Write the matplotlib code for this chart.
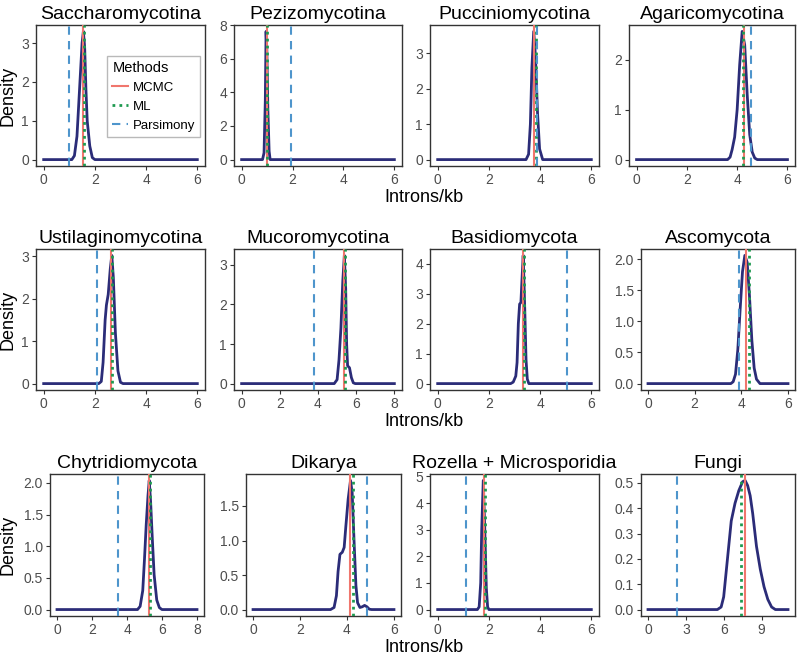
import matplotlib
matplotlib.use("Agg")
import matplotlib.pyplot as plt
from matplotlib.lines import Line2D

plt.rcParams['font.family'] = ['Liberation Sans', 'DejaVu Sans']

# ---------- data ----------
titles = ["Saccharomycotina", "Pezizomycotina", "Pucciniomycotina", "Agaricomycotina",
          "Ustilaginomycotina", "Mucoromycotina", "Basidiomycota", "Ascomycota",
          "Chytridiomycota", "Dikarya", "Rozella + Microsporidia", "Fungi"]

# posterior density curves (x, y)
sacch_x = [0, 1.1, 1.2, 1.3, 1.4, 1.5, 1.55, 1.6, 1.65, 1.7, 1.8, 1.9, 2.0, 6]
sacch_y = [0, 0, 0.1, 0.6, 1.8, 3.0, 3.3, 2.9, 1.8, 1.0, 0.35, 0.05, 0, 0]
pezi_x = [0, 0.82, 0.88, 0.93, 0.96, 0.99, 1.03, 1.08, 1.12, 6]
pezi_y = [0, 0, 0.4, 3.5, 7.62, 6.5, 3.0, 0.5, 0, 0]
pucc_x = [0, 3.45, 3.55, 3.62, 3.68, 3.75, 3.82, 3.9, 3.98, 4.1, 6]
pucc_y = [0, 0, 0.15, 1.0, 2.6, 3.62, 2.9, 1.3, 0.3, 0, 0]
agar_x = [0, 3.62, 3.72, 3.8, 3.9, 4.0, 4.1, 4.2, 4.3, 4.4, 4.5, 4.6, 4.7, 4.8, 6]
agar_y = [0, 0, 0.05, 0.2, 0.45, 1.0, 1.9, 2.57, 2.3, 1.3, 0.5, 0.15, 0.03, 0, 0]
ustil_x = [0, 2.15, 2.25, 2.32, 2.4, 2.45, 2.52, 2.6, 2.66, 2.72, 2.8, 2.9, 3.0, 3.1, 6]
ustil_y = [0, 0, 0.05, 0.5, 1.5, 1.85, 2.1, 2.7, 3.02, 2.5, 1.2, 0.3, 0.03, 0, 0]
muco_x = [0, 4.85, 5.0, 5.1, 5.2, 5.3, 5.38, 5.45, 5.5, 5.55, 5.65, 5.75, 5.85, 5.95, 8]
muco_y = [0, 0, 0.1, 0.6, 1.4, 2.6, 3.24, 2.4, 1.0, 0.45, 0.4, 0.15, 0.02, 0, 0]
basi_x = [0, 2.85, 2.95, 3.05, 3.1, 3.15, 3.2, 3.25, 3.3, 3.34, 3.4, 3.45, 3.5, 3.56, 6]
basi_y = [0, 0, 0.05, 0.25, 0.7, 2.0, 2.65, 2.7, 3.6, 4.27, 2.5, 0.8, 0.15, 0, 0]
asco_x = [0, 3.55, 3.65, 3.75, 3.85, 3.95, 4.05, 4.15, 4.25, 4.35, 4.45, 4.55, 4.65, 4.8, 6]
asco_y = [0, 0, 0.03, 0.15, 0.55, 1.2, 1.8, 2.06, 1.95, 1.4, 0.7, 0.25, 0.07, 0, 0]
chyt_x = [0, 4.6, 4.75, 4.9, 5.0, 5.1, 5.2, 5.27, 5.35, 5.45, 5.55, 5.7, 5.85, 6.0, 8]
chyt_y = [0, 0, 0.05, 0.3, 0.8, 1.35, 1.8, 2.04, 1.7, 1.1, 0.55, 0.15, 0.03, 0, 0]
dika_x = [0, 3.3, 3.45, 3.55, 3.62, 3.7, 3.8, 3.88, 3.95, 4.05, 4.15, 4.22, 4.3, 4.38,
          4.45, 4.55, 4.65, 4.75, 4.85, 4.95, 5.05, 6]
dika_y = [0, 0, 0.03, 0.2, 0.55, 0.8, 0.83, 0.9, 1.2, 1.6, 1.87, 1.7, 1.0, 0.35,
          0.1, 0.03, 0.04, 0.06, 0.04, 0.005, 0, 0]
roze_x = [0, 1.55, 1.62, 1.68, 1.72, 1.78, 1.84, 1.9, 1.95, 2.0, 6]
roze_y = [0, 0, 0.1, 1.0, 3.0, 4.85, 3.0, 0.8, 0.1, 0, 0]
fungi_x = [0, 5.5, 5.8, 6.0, 6.3, 6.6, 6.9, 7.2, 7.5, 7.7, 7.9, 8.1, 8.3, 8.6, 8.9,
           9.2, 9.5, 9.8, 10.1, 11.1]
fungi_y = [0, 0, 0.01, 0.05, 0.2, 0.35, 0.42, 0.47, 0.505, 0.51, 0.49, 0.45, 0.38,
           0.25, 0.16, 0.09, 0.04, 0.01, 0, 0]

curves_x = [sacch_x, pezi_x, pucc_x, agar_x, ustil_x, muco_x,
            basi_x, asco_x, chyt_x, dika_x, roze_x, fungi_x]
curves_y = [sacch_y, pezi_y, pucc_y, agar_y, ustil_y, muco_y,
            basi_y, asco_y, chyt_y, dika_y, roze_y, fungi_y]

# point estimates per method
mcmc = [1.52, 0.98, 3.76, 4.26, 2.63, 5.37, 3.32, 4.19, 5.27, 4.11, 1.81, 7.7]
ml = [1.59, 1.01, 3.83, 4.22, 2.66, 5.41, 3.37, 4.31, 5.33, 4.26, 1.86, 7.36]
parsimony = [1.0, 1.92, 3.88, 4.56, 2.1, 3.78, 5.05, 3.91, 3.48, 4.87, 1.09, 2.3]

x_ticks = [[0, 2, 4, 6]] * 5 + [[0, 2, 4, 6, 8]] + [[0, 2, 4, 6]] * 2 + \
          [[0, 2, 4, 6, 8], [0, 2, 4, 6], [0, 2, 4, 6], [0, 3, 6, 9]]
y_ticks = [[0, 1, 2, 3], [0, 2, 4, 6, 8], [0, 1, 2, 3], [0, 1, 2],
           [0, 1, 2, 3], [0, 1, 2, 3], [0, 1, 2, 3, 4], [0.0, 0.5, 1.0, 1.5, 2.0],
           [0.0, 0.5, 1.0, 1.5, 2.0], [0.0, 0.5, 1.0, 1.5], [0, 1, 2, 3, 4, 5],
           [0.0, 0.1, 0.2, 0.3, 0.4, 0.5]]

methods = ["MCMC", "ML", "Parsimony"]
method_colors = ["#F0766D", "#1E9A50", "#4E95CC"]

# ---------- layout (pixel boxes: left, top, right, bottom) ----------
W, H = 797, 655
rows_top_bottom = [(25, 166), (249, 390), (474, 616)]
lefts = [[36, 234, 430, 629], [36, 234, 430, 641], [50, 246, 430, 641]]
rights = [[205, 402, 599, 795], [205, 402, 599, 795], [204, 401, 599, 795]]

fig = plt.figure(figsize=(W / 100, H / 100), dpi=100)

axes = []
for i in range(12):
    r, c = divmod(i, 4)
    top, bot = rows_top_bottom[r]
    l, rt = lefts[r][c], rights[r][c]
    ax = fig.add_axes([l / W, 1 - bot / H, (rt - l) / W, (bot - top) / H])
    axes.append(ax)

    xs, ys = curves_x[i], curves_y[i]
    ax.plot(xs, ys, color="#2B2C78", lw=2, solid_joinstyle="round", zorder=2)
    ax.axvline(mcmc[i], color=method_colors[0], lw=1.5, zorder=3)
    ax.axvline(ml[i], color=method_colors[1], lw=2, ls=(0, (1, 1.5)), zorder=4)
    ax.axvline(parsimony[i], color=method_colors[2], lw=1.5, ls=(0, (4, 3)), zorder=4)

    # ggplot-like 5% expansion
    xr = xs[-1] - xs[0]
    ax.set_xlim(xs[0] - 0.05 * xr, xs[-1] + 0.05 * xr)
    ym = max(ys)
    ax.set_ylim(-0.05 * ym, 1.05 * ym)

    ax.set_xticks(x_ticks[i])
    ax.set_yticks(y_ticks[i])
    if any(t != int(t) for t in y_ticks[i]):
        ax.set_yticklabels(["%.1f" % t for t in y_ticks[i]])
    else:
        ax.set_yticklabels([str(int(t)) for t in y_ticks[i]])

    ax.tick_params(direction="out", length=3, width=0.8, color="#333333",
                   labelcolor="#4D4D4D", labelsize=10, pad=2)
    for s in ax.spines.values():
        s.set_color("#333333")
        s.set_linewidth(1)
    ax.set_title(titles[i], fontsize=14, pad=4)

# axis titles per row
for r, (top, bot) in enumerate(rows_top_bottom):
    fig.text(8 / W, 1 - (top + bot) / 2 / H, "Density", rotation=90,
             ha="center", va="center", fontsize=13)
    fig.text(424 / W, 1 - (bot + 32) / H, "Introns/kb", ha="center", va="center", fontsize=13)

# legend inside first panel
handles = [Line2D([], [], color=method_colors[0], lw=1.5),
           Line2D([], [], color=method_colors[1], lw=2, ls=(0, (1, 1.5))),
           Line2D([], [], color=method_colors[2], lw=1.5, ls=(0, (4, 3)))]
leg = axes[0].legend(handles, methods, title="Methods", loc="upper left",
                     bbox_to_anchor=(107 / W, 1 - 56 / H), bbox_transform=fig.transFigure,
                     borderaxespad=0, fontsize=9.5, title_fontsize=10.5,
                     handlelength=1.2, handletextpad=0.35, labelspacing=0.5,
                     borderpad=0.4, fancybox=False, alignment="left")
leg.get_frame().set_edgecolor("#A8A8A8")
leg.get_frame().set_linewidth(1)

fig.savefig("out.png", dpi=100)
